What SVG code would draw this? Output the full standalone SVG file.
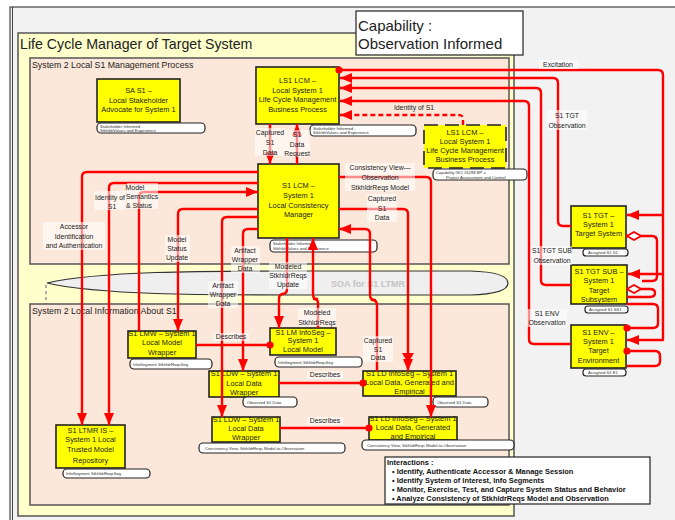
<svg xmlns="http://www.w3.org/2000/svg" width="675" height="520" viewBox="0 0 675 520">
  <style>
    .frame { fill: #f2f2f2; stroke: #444; stroke-width: 1.2; }
    .lcm { fill: #ffffcc; stroke: #555; stroke-width: 1.5; }
    .proc { fill: #fce8da; stroke: #555; stroke-width: 1.5; }
    .node { fill: #ffff00; stroke: #222; stroke-width: 1.6; }
    .node-dash { fill: #ffff00; stroke: #222; stroke-width: 1.6; stroke-dasharray: 14 7; }
    .note { fill: #ffffff; stroke: #222; stroke-width: 1.2; }
    .nt { font-family: "Liberation Sans", Arial, sans-serif; font-size: 7.4px; fill: #222; text-anchor: middle; }
    .tiny { font-family: "Liberation Sans", Arial, sans-serif; font-size: 4.2px; fill: #333; }
    .lbl { font-family: "Liberation Sans", Arial, sans-serif; font-size: 6.9px; fill: #222; text-anchor: middle; }
    .lbl-bg { fill: #ffffff; opacity: 0.55; }
    .cn { fill: none; stroke: #ff0000; stroke-width: 2.4; stroke-linejoin: round; }
    .cn-dash { fill: none; stroke: #ff0000; stroke-width: 2.4; stroke-dasharray: 5 3; }
    .title { font-family: "Liberation Sans", Arial, sans-serif; fill: #222; }
  </style>
  <defs>
    <marker id="arrow" viewBox="0 0 12 10" refX="12" refY="5" markerWidth="12" markerHeight="10" markerUnits="userSpaceOnUse" orient="auto">
      <path d="M0,0 L12,5 L0,10 z" fill="#ff0000"/>
    </marker>
    <marker id="dot" viewBox="0 0 8 8" refX="4" refY="4" markerWidth="8" markerHeight="8" markerUnits="userSpaceOnUse" orient="auto">
      <circle cx="4" cy="4" r="3.6" fill="#ff0000"/>
    </marker>
    <marker id="diamond" viewBox="0 0 16 10" refX="1" refY="5" markerWidth="16" markerHeight="10" markerUnits="userSpaceOnUse" orient="auto">
      <path d="M1,5 L8,1 L15,5 L8,9 z" fill="#ffffff" stroke="#ff0000" stroke-width="1.8"/>
    </marker>
  </defs>

  <rect x="0" y="0" width="675" height="520" fill="#ffffff"/>
  <!-- window frame -->
  <rect class="frame" x="10" y="7" width="672" height="520"/>
  <line x1="12.5" y1="7" x2="12.5" y2="520" stroke="#444" stroke-width="1"/>

  <!-- containers -->
  <g id="lifecycle-manager">
    <rect class="lcm" x="18" y="33" width="496" height="483"/>
    <text class="title" x="20" y="49" font-size="14.2">Life Cycle Manager of Target System</text>
  </g>
  <g id="mgmt-process">
    <rect class="proc" x="30" y="58" width="479" height="206"/>
    <text class="title" x="32" y="68" font-size="8.8">System 2 Local S1 Management Process</text>
  </g>
  <g id="soa-ltmr">
    <path d="M47,283 C100,271 200,271 300,271 L470,271 Q508,272 508,283 Q508,294 470,295 L300,295 C200,295 100,295 47,283 Z" fill="#efefef" stroke="#333" stroke-width="1.2"/>
    <text x="368" y="287" font-family="Liberation Sans, Arial, sans-serif" font-size="9" font-weight="bold" fill="#c4c4c4" text-anchor="middle">SOA for S1 LTMR</text>
    <path d="M46,285 V447 H53" fill="none" stroke="#999" stroke-width="1.6" stroke-dasharray="3 3"/>
  </g>
  <g id="info-about-s1">
    <rect class="proc" x="30" y="304" width="479" height="201"/>
    <text class="title" x="32" y="314" font-size="8.8">System 2 Local Information About S1</text>
  </g>

  <!-- capability title -->
  <g id="capability-title">
    <rect x="356" y="11" width="167" height="44" fill="#ffffff" stroke="#222" stroke-width="1.2"/>
    <text class="title" x="358" y="31" font-size="15">Capability :</text>
    <text class="title" x="358" y="49" font-size="15">Observation Informed</text>
  </g>

  <!-- nodes -->
  <g id="n-sa-s1">
    <rect class="node" x="97" y="79" width="83" height="43"/>
    <text class="nt" x="138.5" y="93">SA S1 –</text>
    <text class="nt" x="138.5" y="103">Local Stakeholder</text>
    <text class="nt" x="138.5" y="112">Advocate for System 1</text>
    <rect class="note" x="97" y="123" width="108" height="10" rx="4"/>
    <text class="tiny" x="100" y="127.5">Stakeholder Informed -</text>
    <text class="tiny" x="100" y="132">StkhldrValues and Experience</text>
  </g>
  <g id="n-ls1-lcm">
    <rect class="node" x="256" y="67" width="83" height="57"/>
    <text class="nt" x="297.5" y="83">LS1 LCM –</text>
    <text class="nt" x="297.5" y="93">Local System 1</text>
    <text class="nt" x="297.5" y="102">Life Cycle Management</text>
    <text class="nt" x="297.5" y="112">Business Process</text>
    <rect class="note" x="310" y="125" width="106" height="11" rx="4"/>
    <text class="tiny" x="313" y="129.5">Stakeholder Informed -</text>
    <text class="tiny" x="313" y="134">StkhldrValues and Experience</text>
  </g>
  <g id="n-ls1-lcm-bp">
    <rect class="node-dash" x="424" y="125" width="82" height="43"/>
    <text class="nt" x="465" y="135">LS1 LCM –</text>
    <text class="nt" x="465" y="144">Local System 1</text>
    <text class="nt" x="465" y="153">Life Cycle Management</text>
    <text class="nt" x="465" y="162">Business Process</text>
    <rect class="note" x="433" y="169" width="94" height="11" rx="4"/>
    <text class="tiny" x="436" y="173.5">Capability ISO 15288 BP =</text>
    <text class="tiny" x="446" y="178.5">Project Assessment and Control</text>
  </g>
  <g id="n-s1-lcm">
    <rect class="node" x="258" y="164" width="81" height="74"/>
    <text class="nt" x="298.5" y="188">S1 LCM –</text>
    <text class="nt" x="298.5" y="198">System 1</text>
    <text class="nt" x="298.5" y="208">Local Consistency</text>
    <text class="nt" x="298.5" y="217">Manager</text>
    <rect class="note" x="270" y="240" width="107" height="12" rx="4"/>
    <text class="tiny" x="273" y="245">Stakeholder Informed -</text>
    <text class="tiny" x="273" y="250">StkhldrValues and Experience</text>
  </g>
  <g id="n-s1-tgt">
    <rect class="node" x="571" y="206" width="55" height="42"/>
    <text class="nt" x="598.5" y="218">S1 TGT –</text>
    <text class="nt" x="598.5" y="227">System 1</text>
    <text class="nt" x="598.5" y="236">Target System</text>
    <rect class="note" x="583" y="249" width="45" height="7" rx="3"/>
    <text class="tiny" x="588" y="254">Assigned S1 S1</text>
  </g>
  <g id="n-s1-tgt-sub">
    <rect class="node" x="571" y="265" width="56" height="39"/>
    <text class="nt" x="599" y="274">S1 TGT SUB –</text>
    <text class="nt" x="599" y="283">System 1</text>
    <text class="nt" x="599" y="293">Target</text>
    <text class="nt" x="599" y="302">Subsystem</text>
    <rect class="note" x="585" y="306" width="43" height="7" rx="3"/>
    <text class="tiny" x="589" y="311">Assigned S1 SS1</text>
  </g>
  <g id="n-s1-env">
    <rect class="node" x="571" y="325" width="55" height="43"/>
    <text class="nt" x="598.5" y="335">S1 ENV –</text>
    <text class="nt" x="598.5" y="344">System 1</text>
    <text class="nt" x="598.5" y="353">Target</text>
    <text class="nt" x="598.5" y="363">Environment</text>
    <rect class="note" x="583" y="369" width="43" height="7" rx="3"/>
    <text class="tiny" x="588" y="374">Assigned S1 E1</text>
  </g>
  <g id="n-s1-lmw">
    <rect class="node" x="128" y="331" width="68" height="27"/>
    <text class="nt" x="162" y="336">S1 LMW – System 1</text>
    <text class="nt" x="162" y="345">Local Model</text>
    <text class="nt" x="162" y="355">Wrapper</text>
    <rect class="note" x="130" y="359" width="82" height="10" rx="4"/>
    <text class="tiny" x="133" y="365.5">InfoSegment StkhldrReqsSeg</text>
  </g>
  <g id="n-s1-lm-infoseg">
    <rect class="node" x="270" y="328" width="66" height="27"/>
    <text class="nt" x="303" y="335">S1 LM InfoSeg –</text>
    <text class="nt" x="303" y="343">System 1</text>
    <text class="nt" x="303" y="352">Local Model</text>
    <rect class="note" x="275" y="357" width="87" height="10" rx="4"/>
    <text class="tiny" x="278" y="363.5">InfoSegment StkhldrReqsSeg</text>
  </g>
  <g id="n-s1-ldw-observed">
    <rect class="node" x="209" y="371" width="70" height="26"/>
    <text class="nt" x="244" y="376">S1 LDW – System 1</text>
    <text class="nt" x="244" y="386">Local Data</text>
    <text class="nt" x="244" y="395">Wrapper</text>
    <rect class="note" x="243" y="397" width="54" height="10" rx="4"/>
    <text class="tiny" x="247" y="403.5">Observed S1 Data</text>
  </g>
  <g id="n-s1-ld-infoseg-observed">
    <rect class="node" x="363" y="371" width="93" height="25"/>
    <text class="nt" x="409.5" y="376">S1 LD InfoSeg – System 1</text>
    <text class="nt" x="409.5" y="385">Local Data, Generated and</text>
    <text class="nt" x="409.5" y="394">Empirical</text>
    <rect class="note" x="433" y="397" width="55" height="10" rx="4"/>
    <text class="tiny" x="437" y="403.5">Observed S1 Data</text>
  </g>
  <g id="n-s1-ldw-consistency">
    <rect class="node" x="212" y="417" width="68" height="25"/>
    <text class="nt" x="246" y="422">S1 LDW – System 1</text>
    <text class="nt" x="246" y="431">Local Data</text>
    <text class="nt" x="246" y="440">Wrapper</text>
    <rect class="note" x="199" y="443" width="146" height="10" rx="4"/>
    <text class="tiny" x="205" y="449.5">Consistency View, StkhldrReqs Model-to-Observation</text>
  </g>
  <g id="n-s1-ld-infoseg-consistency">
    <rect class="node" x="369" y="417" width="88" height="23"/>
    <text class="nt" x="413" y="421">S1 LD InfoSeg – System 1</text>
    <text class="nt" x="413" y="430">Local Data, Generated</text>
    <text class="nt" x="413" y="439">and Empirical</text>
    <rect class="note" x="362" y="440" width="152" height="10" rx="4"/>
    <text class="tiny" x="367" y="446.5">Consistency View, StkhldrReqs Model-to-Observation</text>
  </g>
  <g id="n-s1-ltmr-is">
    <rect class="node" x="56" y="425" width="69" height="43"/>
    <text class="nt" x="90.5" y="433">S1 LTMR IS –</text>
    <text class="nt" x="90.5" y="442">System 1 Local</text>
    <text class="nt" x="90.5" y="452">Trusted Model</text>
    <text class="nt" x="90.5" y="463">Repository</text>
    <rect class="note" x="63" y="469" width="87" height="9" rx="4"/>
    <text class="tiny" x="66" y="475">InfoSegment StkhldrReqsSeg</text>
  </g>

  <!-- connectors -->
  <g id="connectors">
    <!-- excitation to the target elements -->
    <path class="cn" d="M339,70 H658 Q663,70 663,75 V340 H627" marker-start="url(#dot)" marker-end="url(#arrow)"/>
    <path class="cn" d="M663,215 H627" marker-end="url(#arrow)"/>
    <path class="cn" d="M663,274 H628" marker-end="url(#arrow)"/>
    <!-- observations back to LS1 LCM -->
    <path class="cn" d="M571,226 H563 Q558,226 558,221 V83 Q558,78 553,78 H340" marker-end="url(#arrow)"/>
    <path class="cn" d="M571,285 H546 Q541,285 541,280 V93 Q541,88 536,88 H340" marker-end="url(#arrow)"/>
    <path class="cn" d="M571,344 H534 Q529,344 529,339 V106 Q529,101 524,101 H340" marker-end="url(#arrow)"/>
    <path class="cn-dash" d="M463,125 V119 Q463,115 459,115 H340" marker-end="url(#arrow)"/>
    <!-- target structure -->
    <path class="cn" d="M626,236 H652 Q657,236 657,241 V276 Q657,281 652,281 H642"/>
    <path class="cn" d="M627,289 H650 Q655,289 655,293 Q655,297 650,297 H627" marker-start="url(#diamond)"/>
    <path class="cn" d="M627,236 H628" marker-start="url(#diamond)"/>
    <path class="cn" d="M627,304 H653 Q658,304 658,309 V323 Q658,328 653,328 H627" marker-end="url(#dot)"/>
    <path class="cn" d="M627,351 H655 Q660,351 660,356 V361 Q660,366 655,366 H627" marker-start="url(#dot)"/>
    <!-- LS1 LCM and S1 LCM -->
    <path class="cn" d="M270,124 V164" marker-end="url(#arrow)"/>
    <path class="cn" d="M297,164 V124" marker-end="url(#arrow)"/>
    <!-- S1 LCM to the left side -->
    <path class="cn" d="M258,172 H87 Q82,172 82,177 V425" marker-end="url(#arrow)"/>
    <path class="cn" d="M258,183 H114 Q109,183 109,188 V425" marker-end="url(#arrow)"/>
    <path class="cn" d="M139,331 V197 Q139,192 144,192 H258" marker-end="url(#arrow)"/>
    <path class="cn" d="M258,209 H183 Q178,209 178,214 V331" marker-end="url(#arrow)"/>
    <path class="cn" d="M258,217 H227 Q222,217 222,222 V417" marker-end="url(#arrow)"/>
    <path class="cn" d="M258,229 H248 Q243,229 243,234 V371" marker-end="url(#arrow)"/>
    <!-- S1 LCM and the local model info segment -->
    <path class="cn" d="M287,238 V289 Q287,294 282,294 H283 Q279,294 279,299 V328" marker-end="url(#arrow)"/>
    <path class="cn" d="M318,328 V303 Q318,299 314,299 H317 Q313,299 313,294 V238" marker-end="url(#arrow)"/>
    <!-- S1 LCM and the local data info segments -->
    <path class="cn" d="M339,177 H426 Q431,177 431,182 V417" marker-end="url(#arrow)"/>
    <path class="cn" d="M339,209 H403 Q408,209 408,214 V371" marker-end="url(#arrow)"/>
    <path d="M402,353 L408,363 L414,353 z" fill="#ff0000"/>
    <path class="cn" d="M377,371 V305 Q377,300 372,300 H375 Q370,300 370,295 V234 Q370,229 365,229 H339" marker-end="url(#arrow)"/>
    <!-- describes -->
    <path class="cn" d="M196,345 H270" marker-end="url(#dot)"/>
    <path class="cn" d="M279,383 H363" marker-end="url(#dot)"/>
    <path class="cn" d="M280,428 H369" marker-end="url(#dot)"/>
  </g>

  <!-- connector labels -->
  <g id="labels">
    <rect class="lbl-bg" x="539" y="60" width="40" height="9"/>
    <text class="lbl" x="558" y="67">Excitation</text>
    <rect class="lbl-bg" x="547" y="110" width="40" height="20"/>
    <text class="lbl" x="567" y="118">S1 TGT</text>
    <text class="lbl" x="567" y="128">Observation</text>
    <text class="lbl" x="414" y="110">Identity of S1</text>
    <rect class="lbl-bg" x="532" y="246" width="40" height="19"/>
    <text class="lbl" x="552" y="253">S1 TGT SUB</text>
    <text class="lbl" x="552" y="263">Observation</text>
    <rect class="lbl-bg" x="527" y="309" width="40" height="18"/>
    <text class="lbl" x="547" y="316">S1 ENV</text>
    <text class="lbl" x="547" y="325">Observation</text>

    <rect class="lbl-bg" x="255" y="128" width="30" height="28"/>
    <text class="lbl" x="270" y="135">Captured</text>
    <text class="lbl" x="270" y="145">S1</text>
    <text class="lbl" x="270" y="155">Data</text>
    <rect class="lbl-bg" x="285" y="130" width="25" height="27"/>
    <text class="lbl" x="297" y="137">S1</text>
    <text class="lbl" x="297" y="147">Data</text>
    <text class="lbl" x="297" y="156">Request</text>

    <rect class="lbl-bg" x="345" y="163" width="70" height="28"/>
    <text class="lbl" x="380" y="170">Consistency View—</text>
    <text class="lbl" x="380" y="180">Observation</text>
    <text class="lbl" x="380" y="190">StkhldrReqs Model</text>
    <rect class="lbl-bg" x="367" y="194" width="30" height="28"/>
    <text class="lbl" x="382" y="201">Captured</text>
    <text class="lbl" x="382" y="211">S1</text>
    <text class="lbl" x="382" y="220">Data</text>

    <rect class="lbl-bg" x="94" y="191" width="32" height="19"/>
    <text class="lbl" x="110" y="200">Identity of</text>
    <text class="lbl" x="112" y="209">S1</text>
    <rect class="lbl-bg" x="127" y="183" width="31" height="26"/>
    <text class="lbl" x="135" y="190">Model</text>
    <text class="lbl" x="142" y="199">Semantics</text>
    <text class="lbl" x="139" y="208">&amp; Status</text>

    <rect class="lbl-bg" x="43" y="222" width="62" height="28"/>
    <text class="lbl" x="74" y="229">Accessor</text>
    <text class="lbl" x="74" y="239">Identification</text>
    <text class="lbl" x="74" y="248">and Authentication</text>
    <rect class="lbl-bg" x="165" y="235" width="25" height="27"/>
    <text class="lbl" x="177" y="242">Model</text>
    <text class="lbl" x="177" y="251">Status</text>
    <text class="lbl" x="177" y="260">Update</text>
    <rect class="lbl-bg" x="231" y="246" width="29" height="27"/>
    <text class="lbl" x="245" y="253">Artifact</text>
    <text class="lbl" x="245" y="262">Wrapper</text>
    <text class="lbl" x="245" y="271">Data</text>
    <rect class="lbl-bg" x="208" y="281" width="30" height="27"/>
    <text class="lbl" x="223" y="288">Artifact</text>
    <text class="lbl" x="223" y="297">Wrapper</text>
    <text class="lbl" x="223" y="306">Data</text>
    <rect class="lbl-bg" x="269" y="262" width="38" height="27"/>
    <text class="lbl" x="288" y="269">Modeled</text>
    <text class="lbl" x="288" y="278">StkhldrReqs</text>
    <text class="lbl" x="288" y="287">Update</text>
    <rect class="lbl-bg" x="298" y="308" width="38" height="18"/>
    <text class="lbl" x="317" y="315">Modeled</text>
    <text class="lbl" x="317" y="325">StkhldrReqs</text>
    <rect class="lbl-bg" x="363" y="336" width="30" height="26"/>
    <text class="lbl" x="378" y="343">Captured</text>
    <text class="lbl" x="378" y="352">S1</text>
    <text class="lbl" x="378" y="360">Data</text>

    <rect class="lbl-bg" x="213" y="333" width="36" height="8"/>
    <text class="lbl" x="231" y="339">Describes</text>
    <rect class="lbl-bg" x="307" y="371" width="36" height="8"/>
    <text class="lbl" x="325" y="377">Describes</text>
    <rect class="lbl-bg" x="307" y="417" width="36" height="8"/>
    <text class="lbl" x="325" y="423">Describes</text>
  </g>

  <!-- interactions summary -->
  <g id="interactions">
    <rect x="385" y="457" width="265" height="47" fill="#ffffff" stroke="#222" stroke-width="1.2"/>
    <g font-family="Liberation Sans, Arial, sans-serif" font-size="7.4" font-weight="bold" fill="#111">
      <text x="387" y="465">Interactions :</text>
      <text x="392" y="474">• Identify, Authenticate Accessor &amp; Manage Session</text>
      <text x="392" y="483">• Identify System of Interest, Info Segments</text>
      <text x="392" y="492">•  Monitor, Exercise, Test, and Capture System Status and Behavior</text>
      <text x="392" y="501">•  Analyze Consistency of StkhldrReqs Model and Observation</text>
    </g>
  </g>
</svg>
